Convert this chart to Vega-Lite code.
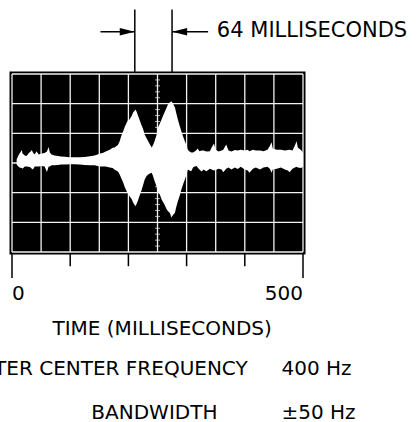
{
  "$schema": "https://vega.github.io/schema/vega-lite/v6.json",
  "width": 291,
  "height": 178,
  "autosize": {"type": "none"},
  "padding": {"left": 12, "top": 74, "right": 114, "bottom": 170},
  "background": "white",
  "config": {
    "font": "DejaVu Sans",
    "axis": {"disable": true},
    "view": {"fill": "black", "stroke": "black", "strokeWidth": 5},
    "text": {"font": "DejaVu Sans", "fontSize": 20, "color": "black"}
  },
  "datasets": {
    "trace": [
      {"t": 8, "hi": 0.12, "lo": -0.05},
      {"t": 11, "hi": 0.25, "lo": -0.12},
      {"t": 13, "hi": 0.32, "lo": -0.15},
      {"t": 17, "hi": 0.44, "lo": -0.17},
      {"t": 18, "hi": 0.32, "lo": -0.19},
      {"t": 22, "hi": 0.25, "lo": -0.12},
      {"t": 25, "hi": 0.24, "lo": -0.12},
      {"t": 29, "hi": 0.34, "lo": -0.13},
      {"t": 32, "hi": 0.39, "lo": -0.15},
      {"t": 34, "hi": 0.44, "lo": -0.19},
      {"t": 36, "hi": 0.35, "lo": -0.22},
      {"t": 39, "hi": 0.29, "lo": -0.12},
      {"t": 42, "hi": 0.40, "lo": -0.12},
      {"t": 46, "hi": 0.29, "lo": -0.12},
      {"t": 51, "hi": 0.32, "lo": -0.10},
      {"t": 56, "hi": 0.34, "lo": -0.12},
      {"t": 60, "hi": 0.39, "lo": -0.30},
      {"t": 63, "hi": 0.54, "lo": -0.12},
      {"t": 65, "hi": 0.35, "lo": -0.12},
      {"t": 68, "hi": 0.29, "lo": -0.08},
      {"t": 73, "hi": 0.25, "lo": -0.08},
      {"t": 79, "hi": 0.24, "lo": -0.07},
      {"t": 84, "hi": 0.22, "lo": -0.05},
      {"t": 91, "hi": 0.21, "lo": -0.05},
      {"t": 99, "hi": 0.19, "lo": -0.04},
      {"t": 108, "hi": 0.19, "lo": -0.04},
      {"t": 116, "hi": 0.19, "lo": -0.05},
      {"t": 125, "hi": 0.20, "lo": -0.07},
      {"t": 134, "hi": 0.23, "lo": -0.08},
      {"t": 142, "hi": 0.25, "lo": -0.08},
      {"t": 147, "hi": 0.29, "lo": -0.10},
      {"t": 151, "hi": 0.32, "lo": -0.12},
      {"t": 156, "hi": 0.34, "lo": -0.12},
      {"t": 161, "hi": 0.39, "lo": -0.12},
      {"t": 168, "hi": 0.45, "lo": -0.15},
      {"t": 173, "hi": 0.51, "lo": -0.17},
      {"t": 176, "hi": 0.52, "lo": -0.22},
      {"t": 182, "hi": 0.61, "lo": -0.29},
      {"t": 185, "hi": 0.73, "lo": -0.39},
      {"t": 188, "hi": 0.93, "lo": -0.52},
      {"t": 191, "hi": 1.07, "lo": -0.66},
      {"t": 194, "hi": 1.23, "lo": -0.83},
      {"t": 197, "hi": 1.36, "lo": -0.95},
      {"t": 199, "hi": 1.43, "lo": -1.03},
      {"t": 202, "hi": 1.47, "lo": -1.12},
      {"t": 206, "hi": 1.60, "lo": -1.23},
      {"t": 208, "hi": 1.70, "lo": -1.33},
      {"t": 211, "hi": 1.77, "lo": -1.42},
      {"t": 212, "hi": 1.80, "lo": -1.46},
      {"t": 214, "hi": 1.74, "lo": -1.38},
      {"t": 216, "hi": 1.63, "lo": -1.29},
      {"t": 219, "hi": 1.47, "lo": -1.11},
      {"t": 222, "hi": 1.30, "lo": -0.95},
      {"t": 225, "hi": 1.16, "lo": -0.76},
      {"t": 228, "hi": 0.96, "lo": -0.56},
      {"t": 231, "hi": 0.84, "lo": -0.45},
      {"t": 234, "hi": 0.73, "lo": -0.39},
      {"t": 237, "hi": 0.62, "lo": -0.35},
      {"t": 240, "hi": 0.52, "lo": -0.33},
      {"t": 242, "hi": 0.59, "lo": -0.42},
      {"t": 245, "hi": 0.73, "lo": -0.61},
      {"t": 249, "hi": 0.99, "lo": -0.83},
      {"t": 251, "hi": 1.20, "lo": -0.99},
      {"t": 254, "hi": 1.33, "lo": -1.06},
      {"t": 257, "hi": 1.47, "lo": -1.23},
      {"t": 259, "hi": 1.57, "lo": -1.30},
      {"t": 262, "hi": 1.70, "lo": -1.40},
      {"t": 265, "hi": 1.84, "lo": -1.53},
      {"t": 268, "hi": 1.97, "lo": -1.63},
      {"t": 271, "hi": 2.04, "lo": -1.68},
      {"t": 274, "hi": 2.08, "lo": -1.84},
      {"t": 276, "hi": 2.02, "lo": -1.77},
      {"t": 280, "hi": 1.87, "lo": -1.68},
      {"t": 282, "hi": 1.70, "lo": -1.50},
      {"t": 285, "hi": 1.47, "lo": -1.29},
      {"t": 288, "hi": 1.26, "lo": -1.11},
      {"t": 291, "hi": 1.07, "lo": -0.89},
      {"t": 294, "hi": 0.89, "lo": -0.72},
      {"t": 297, "hi": 0.73, "lo": -0.56},
      {"t": 300, "hi": 0.59, "lo": -0.39},
      {"t": 302, "hi": 0.45, "lo": -0.22},
      {"t": 305, "hi": 0.39, "lo": -0.25},
      {"t": 308, "hi": 0.35, "lo": -0.28},
      {"t": 311, "hi": 0.35, "lo": -0.15},
      {"t": 314, "hi": 0.39, "lo": -0.12},
      {"t": 317, "hi": 0.44, "lo": -0.10},
      {"t": 319, "hi": 0.49, "lo": -0.15},
      {"t": 322, "hi": 0.40, "lo": -0.22},
      {"t": 326, "hi": 0.42, "lo": -0.29},
      {"t": 329, "hi": 0.42, "lo": -0.22},
      {"t": 334, "hi": 0.39, "lo": -0.28},
      {"t": 340, "hi": 0.40, "lo": -0.19},
      {"t": 343, "hi": 0.52, "lo": -0.22},
      {"t": 347, "hi": 0.66, "lo": -0.25},
      {"t": 350, "hi": 0.45, "lo": -0.24},
      {"t": 355, "hi": 0.39, "lo": -0.19},
      {"t": 360, "hi": 0.42, "lo": -0.22},
      {"t": 363, "hi": 0.45, "lo": -0.31},
      {"t": 368, "hi": 0.62, "lo": -0.19},
      {"t": 372, "hi": 0.42, "lo": -0.15},
      {"t": 377, "hi": 0.39, "lo": -0.22},
      {"t": 383, "hi": 0.44, "lo": -0.15},
      {"t": 388, "hi": 0.42, "lo": -0.20},
      {"t": 393, "hi": 0.45, "lo": -0.13},
      {"t": 400, "hi": 0.42, "lo": -0.22},
      {"t": 405, "hi": 0.45, "lo": -0.25},
      {"t": 408, "hi": 0.40, "lo": -0.33},
      {"t": 414, "hi": 0.45, "lo": -0.19},
      {"t": 419, "hi": 0.42, "lo": -0.15},
      {"t": 426, "hi": 0.42, "lo": -0.22},
      {"t": 432, "hi": 0.40, "lo": -0.15},
      {"t": 439, "hi": 0.45, "lo": -0.13},
      {"t": 443, "hi": 0.57, "lo": -0.19},
      {"t": 446, "hi": 0.70, "lo": -0.33},
      {"t": 448, "hi": 0.49, "lo": -0.22},
      {"t": 455, "hi": 0.45, "lo": -0.19},
      {"t": 462, "hi": 0.45, "lo": -0.15},
      {"t": 469, "hi": 0.42, "lo": -0.22},
      {"t": 474, "hi": 0.44, "lo": -0.25},
      {"t": 477, "hi": 0.45, "lo": -0.31},
      {"t": 482, "hi": 0.42, "lo": -0.19},
      {"t": 486, "hi": 0.59, "lo": -0.15},
      {"t": 489, "hi": 0.73, "lo": -0.13},
      {"t": 491, "hi": 0.52, "lo": -0.15},
      {"t": 497, "hi": 0.43, "lo": -0.17},
      {"t": 500, "hi": 0.34, "lo": -0.12}
    ],
    "gridx": [
      {"t": 0}, {"t": 50}, {"t": 100}, {"t": 150}, {"t": 200}, {"t": 250},
      {"t": 300}, {"t": 350}, {"t": 400}, {"t": 450}, {"t": 500}
    ],
    "gridy": [
      {"v": -3}, {"v": -2}, {"v": -1}, {"v": 0}, {"v": 1}, {"v": 2}, {"v": 3}
    ],
    "graticule": [
      {"v": -2.8}, {"v": -2.6}, {"v": -2.4}, {"v": -2.2}, {"v": -1.8}, {"v": -1.6}, {"v": -1.4}, {"v": -1.2},
      {"v": -0.8}, {"v": -0.6}, {"v": -0.4}, {"v": -0.2}, {"v": 0.2}, {"v": 0.4}, {"v": 0.6}, {"v": 0.8},
      {"v": 1.2}, {"v": 1.4}, {"v": 1.6}, {"v": 1.8}, {"v": 2.2}, {"v": 2.4}, {"v": 2.6}, {"v": 2.8}
    ],
    "midTicks": [{"t": 100}, {"t": 200}, {"t": 300}, {"t": 400}],
    "endTicks": [{"t": 0}, {"t": 500}],
    "markers": [{"t": 211}, {"t": 275}],
    "notes": [{"label": "64 MILLISECONDS"}]
  },
  "layer": [
    {
      "data": {"name": "gridx"},
      "mark": {"type": "rule", "color": "#f2f2f2", "strokeWidth": 1.3},
      "encoding": {
        "x": {"field": "t", "type": "quantitative", "scale": {"domain": [0, 500], "nice": false, "zero": false}},
        "y": {"datum": -3, "type": "quantitative", "scale": {"domain": [-3, 3], "nice": false, "zero": false}},
        "y2": {"datum": 3}
      }
    },
    {
      "data": {"name": "gridy"},
      "mark": {"type": "rule", "color": "#f2f2f2", "strokeWidth": 1.3},
      "encoding": {
        "x": {"datum": 0, "type": "quantitative"},
        "x2": {"datum": 500},
        "y": {"field": "v", "type": "quantitative"}
      }
    },
    {
      "data": {"name": "graticule"},
      "mark": {"type": "tick", "orient": "horizontal", "color": "#f2f2f2", "size": 5, "thickness": 1},
      "encoding": {
        "x": {"datum": 250, "type": "quantitative"},
        "y": {"field": "v", "type": "quantitative"}
      }
    },
    {
      "data": {"name": "trace"},
      "mark": {"type": "area", "color": "white", "opacity": 1, "interpolate": "linear"},
      "encoding": {
        "x": {"field": "t", "type": "quantitative"},
        "y": {"field": "hi", "type": "quantitative"},
        "y2": {"field": "lo"}
      }
    },
    {
      "data": {"name": "midTicks"},
      "mark": {"type": "rule", "color": "black", "strokeWidth": 1.5},
      "encoding": {
        "x": {"field": "t", "type": "quantitative"},
        "y": {"datum": -3.07, "type": "quantitative"},
        "y2": {"datum": -3.48}
      }
    },
    {
      "data": {"name": "endTicks"},
      "mark": {"type": "rule", "color": "black", "strokeWidth": 1.5},
      "encoding": {
        "x": {"field": "t", "type": "quantitative"},
        "y": {"datum": -3.07, "type": "quantitative"},
        "y2": {"datum": -3.88}
      }
    },
    {
      "data": {"name": "markers"},
      "mark": {"type": "rule", "color": "black", "strokeWidth": 1.5},
      "encoding": {
        "x": {"field": "t", "type": "quantitative"},
        "y": {"datum": 3.05, "type": "quantitative"},
        "y2": {"datum": 5.17}
      }
    },
    {
      "data": {"name": "notes"},
      "layer": [
        {
          "mark": {"type": "text", "text": "0", "align": "left", "baseline": "alphabetic"},
          "encoding": {"x": {"datum": 0, "type": "quantitative"}, "y": {"datum": -4.62, "type": "quantitative"}}
        },
        {
          "mark": {"type": "text", "text": "500", "align": "right", "baseline": "alphabetic"},
          "encoding": {"x": {"datum": 500, "type": "quantitative"}, "y": {"datum": -4.62, "type": "quantitative"}}
        },
        {
          "mark": {"type": "text", "text": "TIME (MILLISECONDS)", "align": "center", "baseline": "alphabetic"},
          "encoding": {"x": {"datum": 258, "type": "quantitative"}, "y": {"datum": -5.81, "type": "quantitative"}}
        },
        {
          "mark": {"type": "rule", "color": "black", "strokeWidth": 1.5},
          "encoding": {"x": {"datum": 152, "type": "quantitative"}, "x2": {"datum": 211}, "y": {"datum": 4.42, "type": "quantitative"}}
        },
        {
          "mark": {"type": "rule", "color": "black", "strokeWidth": 1.5},
          "encoding": {"x": {"datum": 275, "type": "quantitative"}, "x2": {"datum": 337}, "y": {"datum": 4.42, "type": "quantitative"}}
        },
        {
          "mark": {"type": "point", "shape": "M-1,-0.5L1,0L-1,0.5Z", "filled": true, "color": "black", "size": 225, "opacity": 1},
          "encoding": {"x": {"datum": 198, "type": "quantitative"}, "y": {"datum": 4.42, "type": "quantitative"}}
        },
        {
          "mark": {"type": "point", "shape": "M1,-0.5L-1,0L1,0.5Z", "filled": true, "color": "black", "size": 225, "opacity": 1},
          "encoding": {"x": {"datum": 288, "type": "quantitative"}, "y": {"datum": 4.42, "type": "quantitative"}}
        },
        {
          "mark": {"type": "text", "text": "64 MILLISECONDS", "align": "left", "baseline": "alphabetic", "fontSize": 21},
          "encoding": {"x": {"datum": 352, "type": "quantitative"}, "y": {"datum": 4.25, "type": "quantitative"}}
        },
        {
          "mark": {"type": "text", "text": "FILTER CENTER FREQUENCY", "align": "right", "baseline": "alphabetic"},
          "encoding": {"x": {"datum": 405, "type": "quantitative"}, "y": {"datum": -7.13, "type": "quantitative"}}
        },
        {
          "mark": {"type": "text", "text": "400 Hz", "align": "left", "baseline": "alphabetic"},
          "encoding": {"x": {"datum": 463, "type": "quantitative"}, "y": {"datum": -7.13, "type": "quantitative"}}
        },
        {
          "mark": {"type": "text", "text": "BANDWIDTH", "align": "right", "baseline": "alphabetic"},
          "encoding": {"x": {"datum": 353, "type": "quantitative"}, "y": {"datum": -8.63, "type": "quantitative"}}
        },
        {
          "mark": {"type": "text", "text": "±50 Hz", "align": "left", "baseline": "alphabetic"},
          "encoding": {"x": {"datum": 463, "type": "quantitative"}, "y": {"datum": -8.63, "type": "quantitative"}}
        }
      ]
    }
  ]
}
